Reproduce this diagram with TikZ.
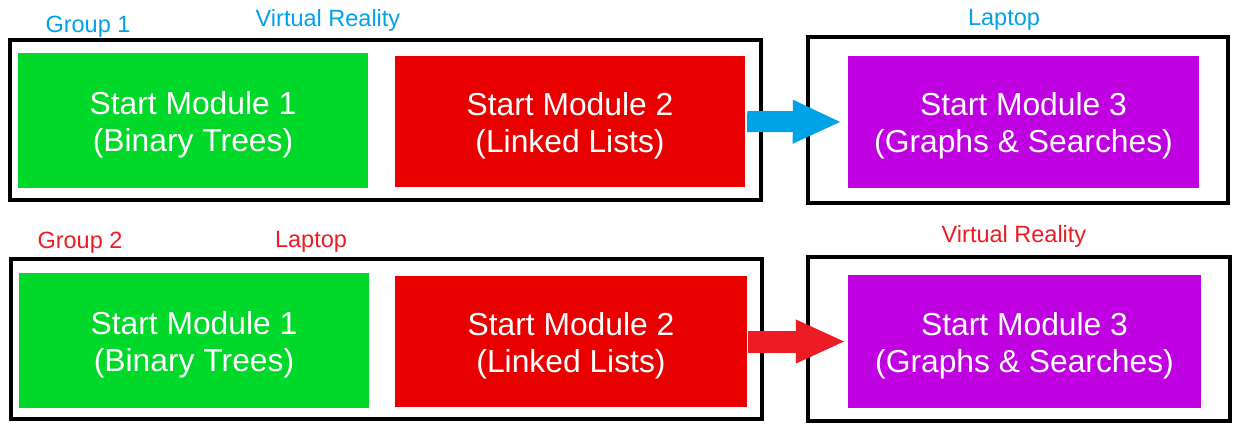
\documentclass[tikz,border=0pt]{standalone}
\usepackage{fontspec}
\setmainfont{Liberation Sans}
\usetikzlibrary{arrows.meta}

\definecolor{modgreen}{HTML}{00D82A}
\definecolor{modred}{HTML}{E80000}
\definecolor{modpurple}{HTML}{BF00E0}
\definecolor{tagblue}{HTML}{00A2E8}
\definecolor{tagred}{HTML}{ED1C24}

% two-line module caption; the strut on the first line sets it a little lower
\newcommand\modcaption[2]{\rule{0pt}{31pt}#1\\#2}

\tikzset{
  module/.style={rectangle, inner sep=0pt, text=white, align=center,
    font=\fontsize{31.8}{37}\selectfont},
  frame/.style={draw=black, line width=3.5pt},
  tag/.style={anchor=base, inner sep=0pt, font=\fontsize{23.5}{27}\selectfont},
  bigarrow/.style={line width=#1, line cap=butt}
}

\begin{document}
\begin{tikzpicture}[x=1pt, y=-1pt]
  \useasboundingbox (0,0) rectangle (1233,423);

  % ---- Group 1 ----
  \draw[frame] (10,40) rectangle (761,200);
  \draw[frame] (808,37) rectangle (1228,203);

  \node[module, fill=modgreen, minimum width=350pt, minimum height=135pt]
    (g1a) at (193,120.5) {\modcaption{Start Module 1}{(Binary Trees)}};
  \node[module, fill=modred, minimum width=350pt, minimum height=131pt]
    (g1b) at (570,121.5) {\modcaption{Start Module 2}{(Linked Lists)}};
  \node[module, fill=modpurple, minimum width=351pt, minimum height=132pt]
    (g1c) at (1023.5,122) {\modcaption{Start Module 3}{(Graphs \& Searches)}};

  \node[tag, text=tagblue] (g1name) at (88,32) {Group 1};
  \node[tag, text=tagblue] (g1dev1) at (328,27) {Virtual Reality};
  \node[tag, text=tagblue] (g1dev2) at (1004,25) {Laptop};

  \draw[bigarrow=21pt, draw=tagblue, -{Triangle[length=49pt, width=40pt]},
        shorten <=2pt, shorten >=6pt] (g1b.east) -- (g1c.west);

  % ---- Group 2 ----
  \draw[frame] (11,259) rectangle (762,419);
  \draw[frame] (808,257) rectangle (1230,421);

  \node[module, fill=modgreen, minimum width=350pt, minimum height=135pt]
    (g2a) at (194,340.5) {\modcaption{Start Module 1}{(Binary Trees)}};
  \node[module, fill=modred, minimum width=352pt, minimum height=131pt]
    (g2b) at (571,341.5) {\modcaption{Start Module 2}{(Linked Lists)}};
  \node[module, fill=modpurple, minimum width=353pt, minimum height=133pt]
    (g2c) at (1024.5,341.5) {\modcaption{Start Module 3}{(Graphs \& Searches)}};

  \node[tag, text=tagred] (g2name) at (80,248) {Group 2};
  \node[tag, text=tagred] (g2dev1) at (311,247) {Laptop};
  \node[tag, text=tagred] (g2dev2) at (1014,242) {Virtual Reality};

  \draw[bigarrow=22pt, draw=tagred, -{Triangle[length=50pt, width=40pt]},
        shorten <=1pt, shorten >=2pt] (g2b.east) -- (g2c.west);
\end{tikzpicture}
\end{document}
